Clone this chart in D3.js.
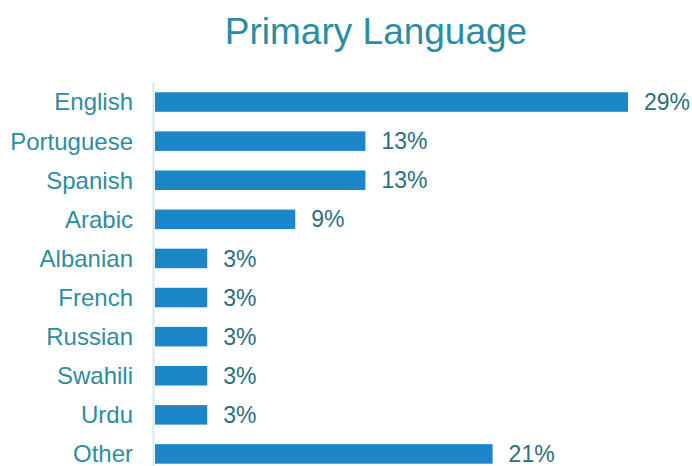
<!DOCTYPE html>
<html>
<head>
<meta charset="utf-8">
<script src="https://cdn.jsdelivr.net/npm/d3@7"></script>
<style>
  body { margin: 0; background: #fff; }
  svg { display: block; font-family: "Liberation Sans", Arial, sans-serif; }
</style>
</head>
<body>
<svg id="chart" width="692" height="466"></svg>
<script>
var languages = ['English', 'Portuguese', 'Spanish', 'Arabic', 'Albanian', 'French', 'Russian', 'Swahili', 'Urdu', 'Other'];
var shares = [29, 12.9, 12.9, 8.6, 3.2, 3.2, 3.2, 3.2, 3.2, 20.7];
var shareLabels = ['29%', '13%', '13%', '9%', '3%', '3%', '3%', '3%', '3%', '21%'];

var rows = languages.map(function(d, i) {
    return { lang: d, v: shares[i], label: shareLabels[i] };
});

var svg = d3.select('#chart');

var x = d3.scaleLinear()
    .domain([0, 29])
    .range([155, 628]);

var y = d3.scaleBand()
    .domain(languages)
    .range([82.5, 473.5])
    .paddingInner(0.5)
    .paddingOuter(0.25);

// title
svg.append('text')
    .attr('x', 376)
    .attr('y', 44)
    .attr('text-anchor', 'middle')
    .attr('font-size', 37)
    .attr('fill', '#2b8da2')
    .text('Primary Language');

// bars
svg.selectAll('rect.bar')
    .data(rows)
    .enter()
    .append('rect')
    .attr('class', 'bar')
    .attr('x', x(0))
    .attr('y', function(d) { return y(d.lang); })
    .attr('width', function(d) { return x(d.v) - x(0); })
    .attr('height', y.bandwidth())
    .attr('fill', '#1b87c9');

// axis line
svg.append('line')
    .attr('x1', 153.5)
    .attr('x2', 153.5)
    .attr('y1', 83)
    .attr('y2', 473)
    .attr('stroke', '#d3e9f3')
    .attr('stroke-width', 2);

// category labels
svg.selectAll('text.cat')
    .data(rows)
    .enter()
    .append('text')
    .attr('class', 'cat')
    .attr('x', 133)
    .attr('y', function(d) { return y(d.lang) + y.bandwidth() / 2; })
    .attr('dy', '0.35em')
    .attr('text-anchor', 'end')
    .attr('font-size', 24)
    .attr('fill', '#2f8c9f')
    .text(function(d) { return d.lang; });

// value labels
svg.selectAll('text.val')
    .data(rows)
    .enter()
    .append('text')
    .attr('class', 'val')
    .attr('x', function(d) { return x(d.v) + 16; })
    .attr('y', function(d) { return y(d.lang) + y.bandwidth() / 2; })
    .attr('dy', '0.35em')
    .attr('font-size', 23)
    .attr('fill', '#2a6f80')
    .text(function(d) { return d.label; });
</script>
</body>
</html>
